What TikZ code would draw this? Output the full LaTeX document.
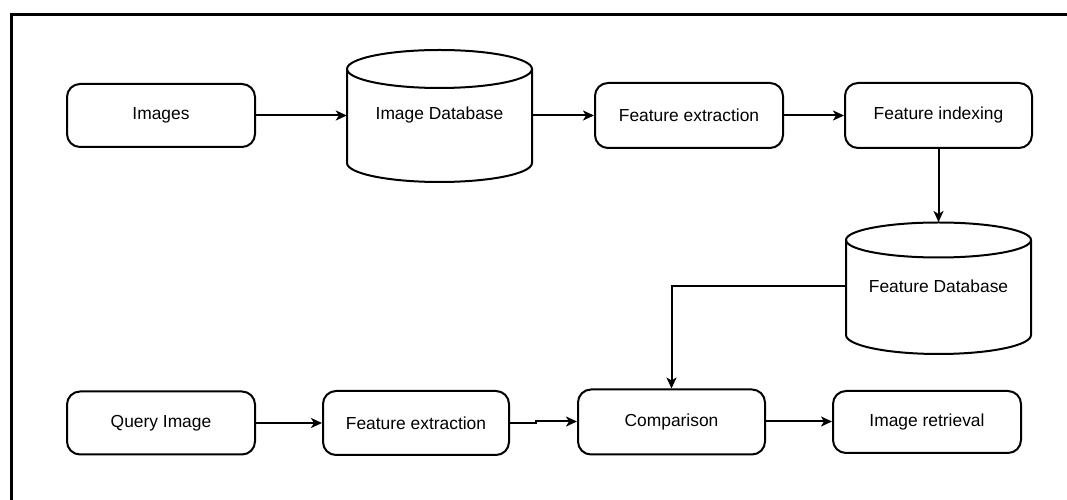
\documentclass[tikz,border=0pt]{standalone}
\usepackage{fontspec}
\setmainfont{Liberation Sans}
\usetikzlibrary{arrows.meta}
\begin{document}
\begin{tikzpicture}[x=1pt,y=1pt,
  box/.style={draw, line width=2pt, rounded corners=13pt, minimum width=188pt, minimum height=63pt, inner sep=0pt, font=\fontsize{17.4}{19}\selectfont},
  cyltext/.style={inner sep=0pt, minimum width=185pt, minimum height=20pt, font=\fontsize{17.4}{19}\selectfont},
  cyl/.style={line width=2pt},
  arr/.style={line width=2pt, -{Stealth[length=11pt,width=10pt,inset=3pt]}},
  frame/.style={line width=3pt}
]
\useasboundingbox (0,0) rectangle (1067,500);
\begin{scope}
  \clip (0,0) rectangle (1067,500);
  \draw[frame] (1080,485) -- (11,485) -- (11,-10);
\end{scope}

% cylinders
\draw[cyl] (439.5,431) ellipse [x radius=92.5, y radius=19];
\draw[cyl] (347,431) -- (347,337) arc[start angle=180, end angle=360, x radius=92.5, y radius=19] -- (532,431);
\draw[cyl] (938.5,260) ellipse [x radius=92.5, y radius=17.5];
\draw[cyl] (846,260) -- (846,165) arc[start angle=180, end angle=360, x radius=92.5, y radius=19] -- (1031,260);

% nodes
\node[box] (img) at (161,384.5) {Images};
\node[cyltext] (imgdb) at (439.5,384.5) {Image Database};
\node[box, minimum height=65pt] (fe1) at (689,384.5) {Feature extraction};
\node[box, minimum height=65pt, minimum width=187pt] (fi) at (938.5,384.5) {Feature indexing};
\node[cyltext] (fdb) at (938.5,214) {Feature Database};
\coordinate (fdbtop) at (938.5,278);
\node[box] (qi) at (161,77) {Query Image};
\node[box, minimum width=186pt, minimum height=64pt] (fe2) at (416,77) {Feature extraction};
\node[box, minimum width=187pt, minimum height=65pt] (cmp) at (671.5,78) {Comparison};
\node[box, minimum height=62pt] (ir) at (927,78) {Image retrieval};

% connectors
\draw[arr] (img.east) -- (imgdb.west);
\draw[arr] (imgdb.east) -- (fe1.west);
\draw[arr] (fe1.east) -- (fi.west);
\draw[arr] (fi.south) -- (fdbtop);
\draw[arr] (fdb.west) -| (cmp.north);
\draw[arr] (qi.east) -- (fe2.west);
\draw[arr] (fe2.east) -- ++(26,0) |- ([yshift=0.5pt]cmp.west);
\draw[arr] ([yshift=0.5pt]cmp.east) -- ([yshift=0.5pt]cmp.east -| ir.west);
\end{tikzpicture}
\end{document}
